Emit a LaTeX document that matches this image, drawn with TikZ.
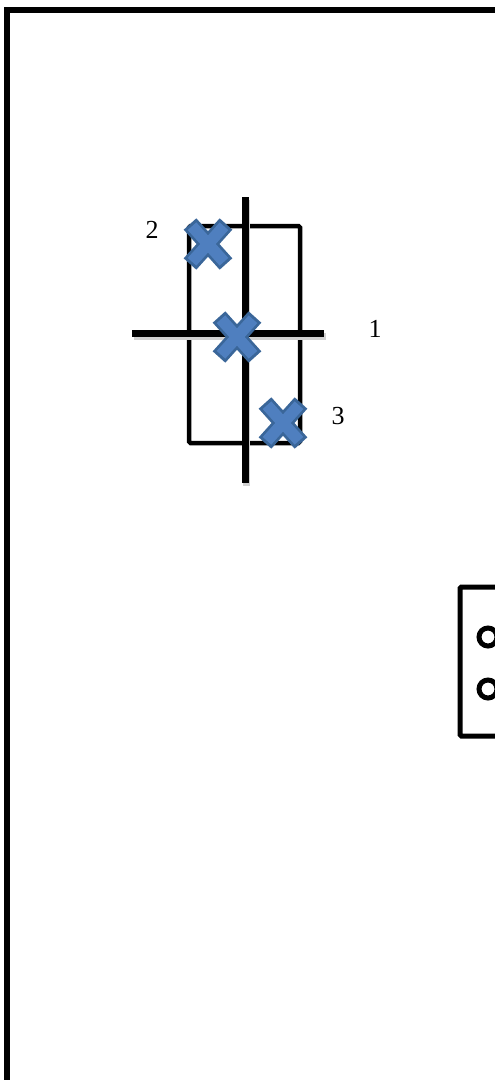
\documentclass[tikz,border=0pt]{standalone}
\usepackage{fontspec}
\setmainfont{Liberation Serif}
\definecolor{xfill}{HTML}{4F7FBF}
\definecolor{xedge}{HTML}{3A6699}
\tikzset{
  frameline/.style={line width=6pt, black},
  boxline/.style={line width=4.5pt, black, rounded corners=1.5pt},
  thickline/.style={line width=7pt, black},
  shadowline/.style={line width=7pt, black!18},
  ringline/.style={line width=5pt, black},
  lbl/.style={font=\fontsize{26}{26}\selectfont, inner sep=0pt},
  pics/xmark/.style={code={
    \draw[line width=17pt, xedge] (-18,-20) -- (18,20);
    \draw[line width=17pt, xedge] (-18,20) -- (18,-20);
    \draw[line width=11.5pt, xfill, shorten <=3pt, shorten >=3pt] (-18,-20) -- (18,20);
    \draw[line width=11.5pt, xfill, shorten <=3pt, shorten >=3pt] (-18,20) -- (18,-20);
  }}
}
\begin{document}
\begin{tikzpicture}[x=1pt, y=-1pt]
\useasboundingbox (0,0) rectangle (495,1080);
% outer frame (cropped)
\coordinate (fbl) at (7,1085);
\coordinate (ftl) at (7,10);
\coordinate (ftr) at (500,10);
\draw[frameline] (fbl) -- (ftl) -- (ftr);
% right box (cropped)
\coordinate (btr) at (500,587);
\coordinate (btl) at (460,587);
\coordinate (bbl) at (460,736);
\coordinate (bbr) at (500,736);
\draw[line width=5pt, black, rounded corners=1.5pt] (btr) -- (btl) -- (bbl) -- (bbr);
\draw[ringline] (488,637) circle (9);
\draw[ringline] (488,689) circle (9);
% rectangle
\draw[boxline] (189,226) rectangle (300,443);
% axes with shadow
\coordinate (vt) at (245,197);
\coordinate (vb) at (245,483);
\coordinate (hl) at (132,333);
\coordinate (hr) at (324,333);
\draw[shadowline] ([shift={(1.5,3)}]vt) -- ([shift={(1.5,3)}]vb);
\draw[shadowline] ([shift={(1.5,3)}]hl) -- ([shift={(1.5,3)}]hr);
\draw[thickline] (vt) -- (vb);
\draw[thickline] (hl) -- (hr);
% markers
\pic (m2) at (208,244) {xmark};
\pic (m1) at (237,337) {xmark};
\pic (m3) at (283,423) {xmark};
% labels
\node[lbl] (l2) at (152,230) {2};
\node[lbl] (l1) at (375,329) {1};
\node[lbl] (l3) at (338,416) {3};
\end{tikzpicture}
\end{document}
